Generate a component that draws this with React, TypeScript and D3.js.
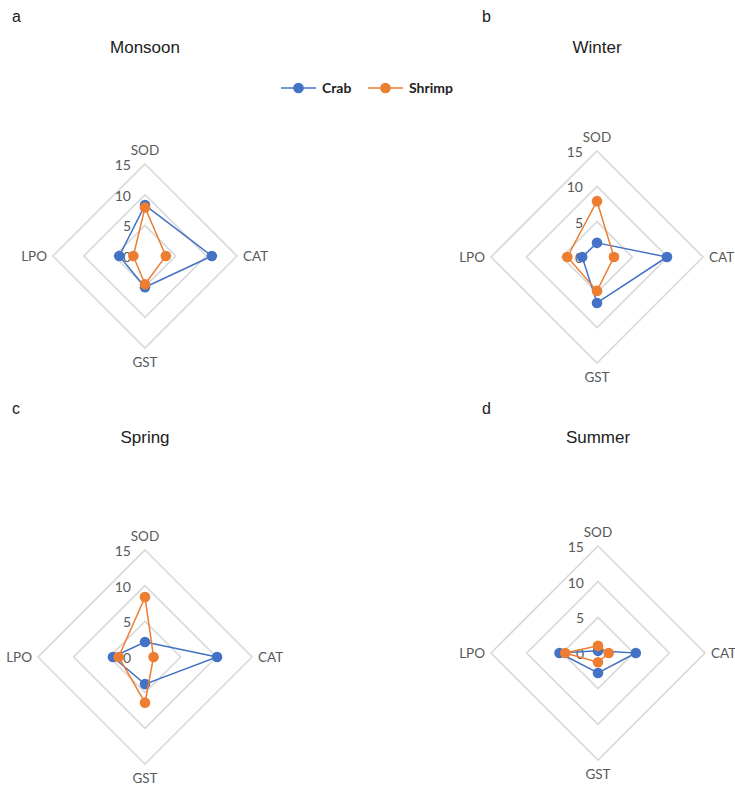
import React from 'react';
import * as d3 from 'd3';

const axes = ['SOD', 'CAT', 'GST', 'LPO'];
const seasons = ['Monsoon', 'Winter', 'Spring', 'Summer'];
const panelLetters = ['a', 'b', 'c', 'd'];
const ticks = [0, 5, 10, 15];

// values per season, in axis order SOD, CAT, GST, LPO
const crab = [
  [8.3, 10.9, 5.1, 4.2],
  [2.0, 9.9, 6.5, 2.1],
  [2.1, 10.1, 3.8, 4.5],
  [0.3, 5.3, 2.8, 5.4],
];
const shrimp = [
  [7.9, 3.4, 4.6, 1.9],
  [7.9, 2.4, 4.8, 4.2],
  [8.4, 1.2, 6.4, 3.7],
  [1.0, 1.5, 1.3, 4.6],
];

const seriesNames = ['Crab', 'Shrimp'];
const colors = ['#4472C4', '#ED7D31'];

// panel layout: letter pos, title pos, radar center and radius
const panels = [
  { lx: 12, ly: 22, tx: 145, ty: 53, cx: 145, cy: 256, r: 92 },
  { lx: 482, ly: 22, tx: 597, ty: 53, cx: 597, cy: 257, r: 106 },
  { lx: 12, ly: 414, tx: 145, ty: 443, cx: 145, cy: 657, r: 107 },
  { lx: 482, ly: 414, tx: 598, ty: 443, cx: 598, cy: 653, r: 107 },
];

const axisFont = 'Lato, "Open Sans", sans-serif';
const titleFont = '"Liberation Sans", Arial, sans-serif';

function Radar({ idx }: { idx: number }) {
  const p = panels[idx];
  const rScale = d3.scaleLinear().domain([0, 15]).range([0, p.r]);
  const angle = (i: number) => (i * Math.PI * 2) / axes.length - Math.PI / 2;
  const pt = (i: number, v: number): [number, number] => [
    p.cx + Math.cos(angle(i)) * rScale(v),
    p.cy + Math.sin(angle(i)) * rScale(v),
  ];
  const closed = d3.line().curve(d3.curveLinearClosed);
  const series = [crab[idx], shrimp[idx]];

  return (
    <g>
      <text x={p.lx} y={p.ly} fontFamily={titleFont} fontSize={16} fill="#222">
        {panelLetters[idx]}
      </text>
      <text x={p.tx} y={p.ty} textAnchor="middle" fontFamily={titleFont} fontSize={17} fill="#222">
        {seasons[idx]}
      </text>
      {ticks.slice(1).map(t => (
        <path
          key={t}
          d={closed(axes.map((_, i) => pt(i, t)))!}
          fill="none"
          stroke="#d9d9d9"
          strokeWidth={1.6}
        />
      ))}
      {ticks.map(t => (
        <text
          key={'t' + t}
          x={p.cx - 14}
          y={p.cy - rScale(t) + 6}
          textAnchor="end"
          fontFamily={axisFont}
          fontSize={14}
          fill="#595959"
        >
          {t}
        </text>
      ))}
      {axes.map((a, i) => {
        const [x, y] = pt(i, 15);
        const pos = [
          { x, y: y - 9, anchor: 'middle' },
          { x: x + 6, y: y + 5, anchor: 'start' },
          { x, y: y + 19, anchor: 'middle' },
          { x: x - 6, y: y + 5, anchor: 'end' },
        ][i];
        return (
          <text
            key={a}
            x={pos.x}
            y={pos.y}
            textAnchor={pos.anchor as any}
            fontFamily={axisFont}
            fontSize={13.5}
            fill="#595959"
          >
            {a}
          </text>
        );
      })}
      {series.map((vals, s) => (
        <g key={s}>
          <path
            d={closed(vals.map((v, i) => pt(i, v)))!}
            fill="none"
            stroke={colors[s]}
            strokeWidth={1.5}
          />
          {vals.map((v, i) => {
            const [x, y] = pt(i, v);
            return <circle key={i} cx={x} cy={y} r={5.3} fill={colors[s]} />;
          })}
        </g>
      ))}
    </g>
  );
}

export default function App() {
  const legendX = [281, 368];
  return (
    <svg width={735} height={785} style={{ position: 'absolute', left: 0, top: 0 }}>
      <rect width={735} height={785} fill="#fff" />
      {seriesNames.map((n, s) => (
        <g key={n}>
          <line x1={legendX[s]} x2={legendX[s] + 35} y1={88} y2={88} stroke={colors[s]} strokeWidth={1.5} />
          <circle cx={legendX[s] + 17.5} cy={88} r={5.3} fill={colors[s]} />
          <text
            x={legendX[s] + 41}
            y={93}
            fontFamily={axisFont}
            fontWeight="bold"
            fontSize={14}
            fill="#222"
          >
            {n}
          </text>
        </g>
      ))}
      {seasons.map((_, i) => (
        <Radar key={i} idx={i} />
      ))}
    </svg>
  );
}
